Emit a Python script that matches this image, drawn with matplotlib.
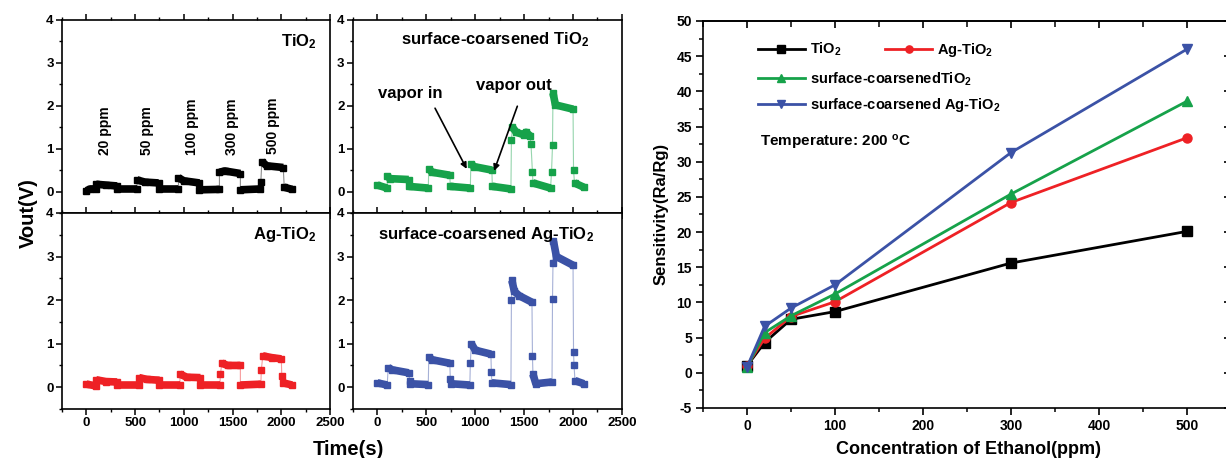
import matplotlib
matplotlib.use('Agg')
import matplotlib.pyplot as plt
from matplotlib.ticker import MultipleLocator

plt.rcParams['font.family'] = 'Liberation Sans'
plt.rcParams['font.weight'] = 'bold'
plt.rcParams['mathtext.fontset'] = 'custom'
plt.rcParams['mathtext.rm'] = 'Liberation Sans:bold'
plt.rcParams['mathtext.bf'] = 'Liberation Sans:bold'
plt.rcParams['mathtext.default'] = 'bf'
plt.rcParams['axes.linewidth'] = 1.2
plt.rcParams['axes.unicode_minus'] = False

###
# Data: Vout(V) vs time(s), one list per plateau / baseline / transition point
###

tio2_t = [[0, 40, 100], [100, 200, 315], [315, 520], [520, 600, 740], [740, 945],
          [945, 1000, 1160], [1160, 1365], [1365, 1420, 1580], [1580, 1785], [1790],
          [1800, 1850, 2020], [2030, 2110]]
tio2_v = [[0.02, 0.06, 0.06], [0.17, 0.15, 0.13], [0.05, 0.05], [0.27, 0.22, 0.2], [0.05, 0.05],
          [0.32, 0.25, 0.2], [0.04, 0.05], [0.45, 0.48, 0.42], [0.04, 0.06], [0.23],
          [0.7, 0.6, 0.56], [0.1, 0.05]]

ag_t = [[0, 100], [100, 200, 315], [315, 540], [540, 620, 750], [750, 960],
        [960, 1030, 1170], [1170, 1370], [1375], [1390, 1450, 1580], [1580, 1790], [1795],
        [1810, 1900, 2000], [2005], [2020, 2110]]
ag_v = [[0.07, 0.03], [0.17, 0.13, 0.12], [0.04, 0.04], [0.22, 0.18, 0.16], [0.05, 0.05],
        [0.3, 0.23, 0.22], [0.05, 0.05], [0.3], [0.55, 0.5, 0.5], [0.05, 0.07], [0.4],
        [0.72, 0.68, 0.65], [0.25], [0.1, 0.05]]

sc_t = [[0, 100], [100, 130, 320], [320, 520], [525, 560, 740], [745, 950],
        [955, 990, 1170], [1175, 1365], [1370], [1380, 1420, 1500, 1520, 1560], [1570], [1585],
        [1590, 1770], [1780], [1790], [1795, 1820, 2000], [2005], [2015, 2110]]
sc_v = [[0.15, 0.08], [0.36, 0.3, 0.28], [0.12, 0.08], [0.53, 0.45, 0.38], [0.12, 0.08],
        [0.65, 0.58, 0.5], [0.12, 0.06], [1.2], [1.5, 1.38, 1.32, 1.38, 1.3], [1.1], [0.45],
        [0.2, 0.08], [0.45], [1.08], [2.3, 2.02, 1.92], [0.5], [0.2, 0.1]]

scag_t = [[0, 100], [110, 150, 320], [330], [335, 520], [525, 560, 740], [745], [750, 945],
          [950], [960, 1000, 1160], [1165], [1170, 1365], [1370], [1375, 1400, 1450, 1580],
          [1585], [1590, 1620, 1785], [1790], [1795], [1800, 1830, 2000], [2005], [2010],
          [2020, 2110]]
scag_v = [[0.1, 0.05], [0.45, 0.4, 0.33], [0.15], [0.08, 0.06], [0.7, 0.63, 0.55], [0.2], [0.08, 0.05],
          [0.55], [1.0, 0.85, 0.76], [0.35], [0.1, 0.06], [2.0], [2.45, 2.2, 2.1, 1.95],
          [0.72], [0.3, 0.08, 0.12], [2.02], [2.85], [3.35, 3.0, 2.8], [0.8], [0.5],
          [0.15, 0.08]]

ppm_labels = ['20 ppm', '50 ppm', '100 ppm', '300 ppm', '500 ppm']
ppm_x = [195, 617, 1080, 1492, 1914]
ppm_y = [0.84, 0.84, 0.84, 0.84, 0.88]

# Sensitivity vs ethanol concentration
conc = [0, 20, 50, 100, 300, 500]
s_tio2 = [1.0, 4.3, 7.6, 8.7, 15.6, 20.1]
s_ag = [1.0, 4.9, 8.0, 10.1, 24.2, 33.4]
s_sc = [0.8, 5.7, 8.1, 11.2, 25.4, 38.6]
s_scag = [0.8, 6.6, 9.2, 12.5, 31.3, 46.0]

black = '#000000'
red = '#ee2125'
green = '#16a24a'
blue = '#3b52a6'

fig = plt.figure(figsize=(12.26, 4.58), dpi=100)

ax_tl = fig.add_axes([0.0506, 0.535, 0.2186, 0.4214])
ax_tr = fig.add_axes([0.2879, 0.535, 0.2194, 0.4214])
ax_bl = fig.add_axes([0.0506, 0.107, 0.2186, 0.428])
ax_br = fig.add_axes([0.2879, 0.107, 0.2194, 0.428])
ax_s = fig.add_axes([0.5734, 0.1092, 0.4307, 0.845])


def draw_trace(ax, t_segs, v_segs, color):
    t_all = [t for seg in t_segs for t in seg]
    v_all = [v for seg in v_segs for v in seg]
    ax.plot(t_all, v_all, '-', color=color, lw=0.8, alpha=0.45, zorder=1)
    for ts, vs in zip(t_segs, v_segs):
        ax.plot(ts, vs, '-s', color=color, lw=5.5, ms=4, solid_capstyle='butt', zorder=2)


def setup_left(ax, show_x):
    ax.set_xlim(-250, 2500)
    ax.set_ylim(-0.5, 4)
    ax.xaxis.set_major_locator(MultipleLocator(500))
    ax.xaxis.set_minor_locator(MultipleLocator(250))
    ax.yaxis.set_major_locator(MultipleLocator(1))
    ax.yaxis.set_minor_locator(MultipleLocator(0.5))
    ax.tick_params(which='both', direction='out', top=True, labelsize=9.5, pad=2)
    ax.tick_params(which='major', length=4, width=1.1)
    ax.tick_params(which='minor', length=2.5, width=1)
    if not show_x:
        ax.tick_params(labelbottom=False)


draw_trace(ax_tl, tio2_t, tio2_v, black)
draw_trace(ax_tr, sc_t, sc_v, green)
draw_trace(ax_bl, ag_t, ag_v, red)
draw_trace(ax_br, scag_t, scag_v, blue)

setup_left(ax_tl, False)
setup_left(ax_tr, False)
setup_left(ax_bl, True)
setup_left(ax_br, True)

for lab, x, y in zip(ppm_labels, ppm_x, ppm_y):
    ax_tl.text(x, y, lab, rotation=90, ha='center', va='bottom', fontsize=10)

ax_tl.text(0.95, 0.886, r'TiO$_2$', transform=ax_tl.transAxes, ha='right', va='center', fontsize=12)
ax_tr.text(0.528, 0.896, r'surface-coarsened TiO$_2$', transform=ax_tr.transAxes,
           ha='center', va='center', fontsize=12)
ax_bl.text(0.95, 0.888, r'Ag-TiO$_2$', transform=ax_bl.transAxes, ha='right', va='center', fontsize=12)
ax_br.text(0.495, 0.888, r'surface-coarsened Ag-TiO$_2$', transform=ax_br.transAxes,
           ha='center', va='center', fontsize=12)

# vapor in / out arrows
arr = dict(arrowstyle='-|>', color='k', lw=1.2, mutation_scale=9)
ax_tr.annotate('', xy=(926, 0.47), xytext=(576, 2.0), arrowprops=arr)
ax_tr.annotate('', xy=(1183, 0.42), xytext=(1440, 2.05), arrowprops=arr)
ax_tr.text(340, 2.28, 'vapor in', ha='center', va='center', fontsize=12)
ax_tr.text(1400, 2.47, 'vapor out', ha='center', va='center', fontsize=12)

fig.text(0.023, 0.535, 'Vout(V)', rotation=90, ha='center', va='center', fontsize=14.5)
fig.text(0.284, 0.0175, 'Time(s)', ha='center', va='center', fontsize=14.5)

###
# Sensitivity panel
###
lw = 2.0
ms = 6.5
ax_s.plot(conc, s_tio2, '-s', color=black, lw=lw, ms=ms, label=r'TiO$_2$')
ax_s.plot(conc, s_ag, '-o', color=red, lw=lw, ms=ms, label=r'Ag-TiO$_2$')
ax_s.plot(conc, s_sc, '-^', color=green, lw=lw, ms=ms, label=r'surface-coarsenedTiO$_2$')
ax_s.plot(conc, s_scag, '-v', color=blue, lw=lw, ms=ms, label=r'surface-coarsened Ag-TiO$_2$')

ax_s.set_xlim(-50, 550)
ax_s.set_ylim(-5, 50)
ax_s.xaxis.set_major_locator(MultipleLocator(100))
ax_s.xaxis.set_minor_locator(MultipleLocator(50))
ax_s.yaxis.set_major_locator(MultipleLocator(5))
ax_s.yaxis.set_minor_locator(MultipleLocator(2.5))
ax_s.tick_params(which='both', direction='out', labelsize=10, pad=3)
ax_s.tick_params(which='major', length=5, width=1.2)
ax_s.tick_params(which='minor', length=3, width=1.1)

top = ax_s.secondary_xaxis('top')
top.xaxis.set_major_locator(MultipleLocator(100))
top.xaxis.set_minor_locator(MultipleLocator(50))
top.tick_params(which='both', direction='in', labeltop=False)
top.tick_params(which='major', length=5, width=1.2)
top.tick_params(which='minor', length=4, width=1.1)
right = ax_s.secondary_yaxis('right')
right.yaxis.set_major_locator(MultipleLocator(5))
right.yaxis.set_minor_locator(MultipleLocator(2.5))
right.tick_params(which='both', direction='in', labelright=False)
right.tick_params(which='major', length=5, width=1.2)
right.tick_params(which='minor', length=3, width=1.1)

h, l = ax_s.get_legend_handles_labels()
leg1 = ax_s.legend(h[:2], l[:2], ncol=2, loc='center left', bbox_to_anchor=(0.104, 0.925),
                   frameon=False, fontsize=10.5, handlelength=3.2, handletextpad=0.35,
                   columnspacing=3.0, borderpad=0, borderaxespad=0, markerscale=0.8)
ax_s.add_artist(leg1)
ax_s.legend(h[2:], l[2:], loc='center left', bbox_to_anchor=(0.104, 0.8165),
            frameon=False, fontsize=10.5, handlelength=3.2, handletextpad=0.35,
            labelspacing=0.55, borderpad=0, borderaxespad=0, markerscale=0.8)
ax_s.text(0.108, 0.685, r'Temperature: 200 $^{o}$C', transform=ax_s.transAxes,
          ha='left', va='center', fontsize=11)

fig.text(0.539, 0.533, 'Sensitivity(Ra/Rg)', rotation=90, ha='center', va='center', fontsize=12)
fig.text(0.79, 0.0175, 'Concentration of Ethanol(ppm)', ha='center', va='center', fontsize=13)

fig.savefig('out.png', dpi=100)
